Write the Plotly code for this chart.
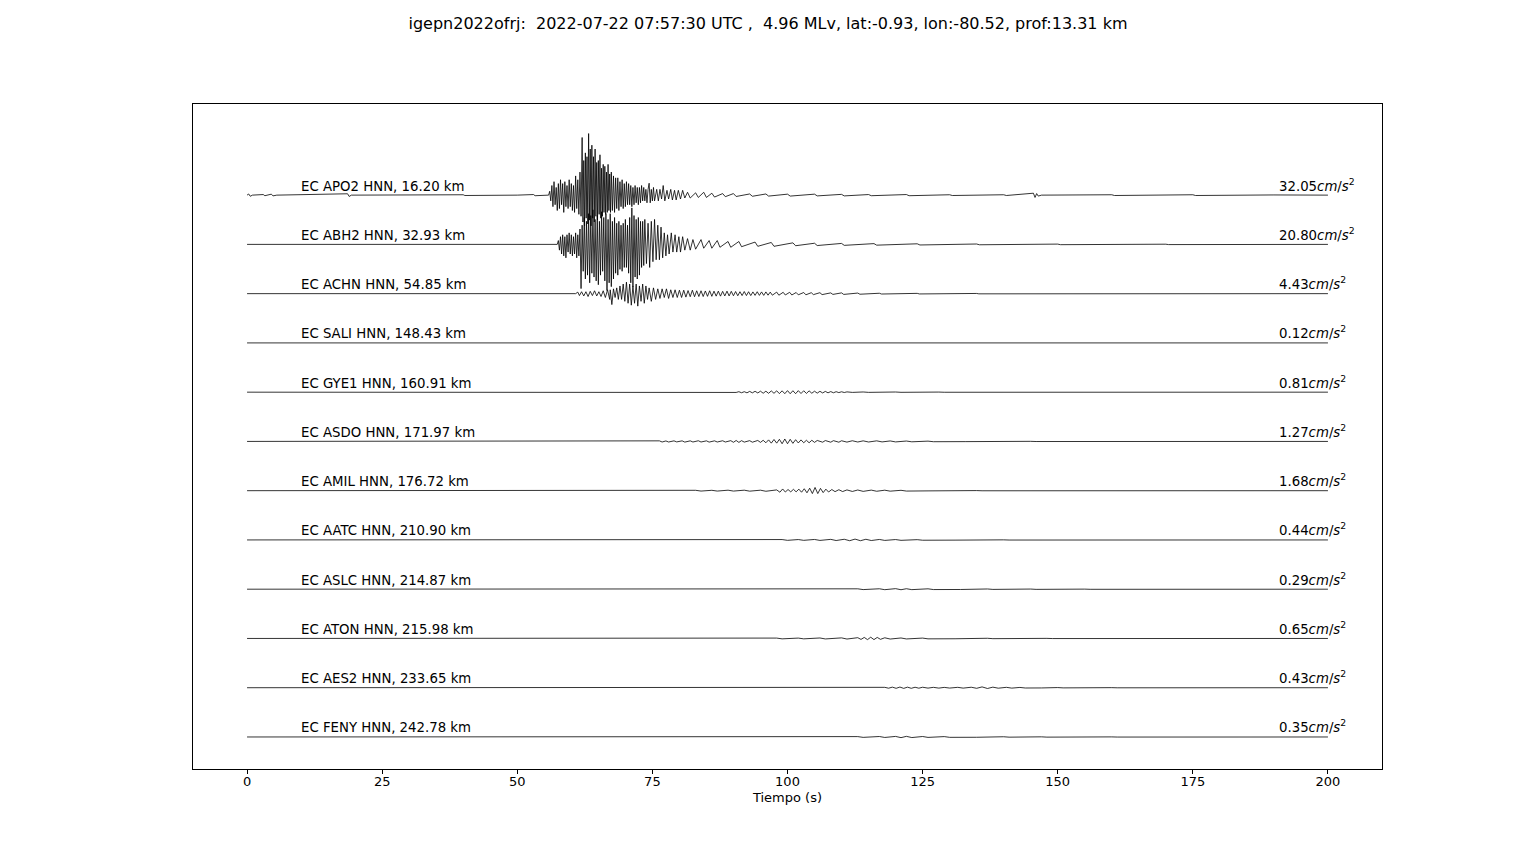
import plotly.graph_objects as go

# ---------------- data ----------------
TITLE = "igepn2022ofrj:  2022-07-22 07:57:30 UTC ,  4.96 MLv, lat:-0.93, lon:-80.52, prof:13.31 km"
NETWORK = "EC"
CHANNEL = "HNN"
STATIONS = ["APO2", "ABH2", "ACHN", "SALI", "GYE1", "ASDO", "AMIL", "AATC", "ASLC", "ATON", "AES2", "FENY"]
DIST_KM = [16.20, 32.93, 54.85, 148.43, 160.91, 171.97, 176.72, 210.90, 214.87, 215.98, 233.65, 242.78]
PGA = [32.05, 20.80, 4.43, 0.12, 0.81, 1.27, 1.68, 0.44, 0.29, 0.65, 0.43, 0.35]
X_TICKS = [0, 25, 50, 75, 100, 125, 150, 175, 200]

# waveform peaks: (time s, acceleration cm/s^2)
APO2 = [(0, 0), (0.3, 0.6), (0.6, -0.6), (1.0, 0), (3, 0.3), (3.3, -0.3), (4.5, 0.5), (4.8, -0.4), (5.5, 0),
        (18.6, 0.7), (18.9, -0.7), (19.3, 0), (40, 0.2), (40.3, -0.2), (50, 0), (53, 0.3), (53.3, -0.3), (55.8, 0),
        (56.0, 2), (56.2, -3), (56.4, 5), (56.6, -6), (56.8, 7), (57.0, -5), (57.2, 4), (57.4, -8), (57.6, 6),
        (57.8, -7), (58.0, 8), (58.2, -5), (58.4, 6), (58.6, -9), (58.8, 7), (59.0, -6), (59.2, 5), (59.4, -7),
        (59.6, 8), (59.8, -6), (60.0, 6), (60.2, -8), (60.4, 5), (60.6, -9), (60.8, 10), (61.0, -7), (61.2, 8),
        (61.4, -10), (61.6, 12), (61.8, -11), (62.0, 30), (62.15, -14), (62.3, 18), (62.45, -16), (62.6, 22),
        (62.75, -12), (62.9, 20), (63.05, -15), (63.2, 32.05), (63.35, -13), (63.5, 24), (63.65, -16),
        (63.8, 26), (63.95, -12), (64.1, 20), (64.25, -14), (64.4, 24), (64.55, -11), (64.7, 17), (64.85, -13),
        (65.0, 18), (65.15, -10), (65.3, 21), (65.45, -12), (65.6, 14), (65.75, -11), (65.9, 16), (66.05, -9),
        (66.2, 15), (66.35, -10), (66.5, 12), (66.65, -9), (66.8, 16), (66.95, -8), (67.1, 11), (67.25, -9),
        (67.4, 12), (67.6, -8), (67.8, 10), (68.0, -9), (68.2, 9), (68.4, -7), (68.6, 9), (68.8, -8), (69.0, 7),
        (69.2, -6), (69.4, 8), (69.6, -7), (69.8, 6), (70.0, -6), (70.2, 7), (70.4, -5), (70.6, 6), (70.8, -5),
        (71.0, 5), (71.2, -6), (71.4, 4), (71.6, -5), (71.8, 5), (72.0, -4), (72.2, 4), (72.4, -5), (72.6, 4),
        (72.8, -4), (73.0, 5), (73.2, -3), (73.4, 4), (73.6, -3), (73.8, 3), (74.0, -4), (74.2, 3), (74.4, 6.2),
        (74.6, -4), (74.8, 3), (75.0, -3), (75.2, 4), (75.4, -3), (75.8, 3), (76.1, -3), (76.4, 3), (76.7, -2),
        (77.0, 5), (77.3, -3), (77.7, 2.5), (78.0, -2), (78.4, 3), (78.7, -2.5), (79.1, 2.5), (79.4, -2.5),
        (79.8, 2.5), (80.2, -2), (80.6, 2.5), (81.0, -1.5), (81.5, 1.5), (82, -1.5), (83, 1.2), (83.5, -1.2),
        (84.5, 1.5), (85, -1.2), (86, 1), (86.5, -1), (88, 0.8), (88.5, -0.8), (90, 0.8), (90.5, -0.7),
        (93, 0.6), (93.5, -0.6), (96, 0.6), (96.5, -0.5), (100, 0.5), (100.5, -0.5), (105, 0.5), (105.5, -0.4),
        (110, 0.4), (110.5, -0.4), (115, 0.3), (115.5, -0.3), (122, 0.3), (122.5, -0.3), (130, 0.2),
        (130.5, -0.2), (140, 0.2), (140.5, -0.2), (145.5, 1.0), (145.8, -1.2), (146.1, 0.8), (146.4, -0.5),
        (147, 0), (160, 0.2), (160.5, -0.2), (175, 0.2), (175.5, -0.2), (190, 0.1), (200, 0)]

ABH2 = [(0, 0), (30, 0.1), (30.3, -0.1), (57.4, 0), (57.6, 2), (57.8, -3), (58.0, 4), (58.2, -5), (58.4, 5),
        (58.6, -6), (58.8, 4), (59.0, -7), (59.2, 5), (59.4, -4), (59.6, 6), (59.8, -5), (60.0, 5), (60.2, -6),
        (60.4, 4), (60.6, -5), (60.8, 6), (61.0, -7), (61.2, 5), (61.4, -6), (61.6, 8), (61.8, -23), (62.0, 10),
        (62.2, -14), (62.4, 14), (62.6, -18), (62.8, 12), (63.0, -16), (63.2, 16), (63.4, -20), (63.6, 15),
        (63.8, -15), (64.0, 18), (64.2, -17), (64.4, 13), (64.6, -19), (64.8, 15), (65.0, -21), (65.2, 12),
        (65.4, -16), (65.6, 17), (65.8, -14), (66.0, 14), (66.2, -19), (66.4, 16), (66.6, -24), (66.8, 13),
        (67.0, -20), (67.2, 16), (67.4, -22), (67.6, 12), (67.8, -18), (68.0, 14), (68.2, -15), (68.4, 11),
        (68.6, -16), (68.8, 12), (69.0, -13), (69.2, 10), (69.4, -14), (69.6, 11), (69.8, -12), (70.0, 13),
        (70.2, -12), (70.4, 10), (70.6, -15), (70.8, 14), (71.0, -20), (71.2, 19), (71.4, -22), (71.6, 15),
        (71.8, -17), (72.0, 13), (72.2, -18), (72.4, 14), (72.6, -16), (72.8, 12), (73.0, -12), (73.2, 12),
        (73.4, -11), (73.6, 13), (73.9, -10), (74.2, 11), (74.5, -12), (74.8, 12), (75.1, -9), (75.4, 13),
        (75.7, -8), (76.0, 10), (76.3, -8), (76.6, 9), (76.9, -7), (77.2, 6), (77.5, -6), (77.8, 5), (78.1, -5),
        (78.5, 6), (78.8, -4), (79.2, 5), (79.5, -4), (79.9, 4), (80.2, -4), (80.6, 4), (81.0, -3), (81.5, 3),
        (82, -3), (82.5, 2.5), (83, -2.5), (84, 2.5), (84.5, -2), (85.5, 2), (86, -2), (87, 2), (87.5, -1.5),
        (89, 1.5), (89.5, -1.5), (91, 1.5), (91.5, -1.2), (94, 1.2), (94.5, -1), (97, 1), (97.5, -1), (101, 0.8),
        (101.5, -0.7), (105, 0.6), (105.5, -0.6), (110, 0.5), (110.5, -0.5), (116, 0.4), (116.5, -0.4),
        (124, 0.3), (124.5, -0.3), (135, 0.2), (135.5, -0.2), (150, 0.15), (150.5, -0.15), (170, 0.1),
        (170.5, -0.1), (200, 0)]

ACHN = [(0, 0), (30, 0.1), (30.3, -0.1), (60.8, 0), (61.2, 0.8), (61.5, -1), (61.9, 1), (62.3, -1.2), (62.7, 1),
        (63.1, -1.5), (63.5, 1.2), (63.9, -1), (64.3, 1.5), (64.7, -1.2), (65.1, 1), (65.5, -1.5), (65.9, 1.5),
        (66.3, -2), (66.7, 2), (67.1, -3), (67.2, 2), (67.5, -5.7), (67.8, 2.5), (68.1, -2), (68.4, 3),
        (68.7, -3), (69.0, 4), (69.3, -3), (69.6, 5), (69.9, -4), (70.2, 6), (70.5, -5), (70.8, 5), (71.1, -6),
        (71.4, 4), (71.7, -5), (72.0, 5), (72.3, -6.5), (72.6, 4), (72.9, -4), (73.2, 5), (73.5, -5), (73.8, 4),
        (74.1, -3), (74.4, 3), (74.8, -4), (75.2, 3), (75.6, -3), (76.0, 2.5), (76.4, -2.5), (76.8, 2.5),
        (77.2, -2), (77.6, 2.5), (78.0, -2.5), (78.4, 2), (78.8, -2), (79.2, 2), (79.6, -2), (80.0, 1.8),
        (80.4, -2), (80.8, 1.8), (81.2, -1.8), (81.6, 1.6), (82.0, -1.6), (82.4, 1.8), (82.8, -1.6), (83.2, 1.5),
        (83.6, -1.5), (84.0, 1.5), (84.4, -1.5), (84.8, 1.4), (85.2, -1.4), (85.6, 1.5), (86.0, -1.4),
        (86.4, 1.3), (86.8, -1.3), (87.2, 1.3), (87.6, -1.3), (88.0, 1.2), (88.4, -1.2), (88.8, 1.3),
        (89.2, -1.2), (89.6, 1.2), (90.0, -1.1), (90.4, 1.1), (90.8, -1.1), (91.2, 1.0), (91.6, -1.0),
        (92.0, 1.1), (92.4, -1.0), (92.8, 1.0), (93.2, -1.0), (93.6, 0.9), (94.0, -0.9), (94.4, 1.0),
        (94.8, -0.9), (95.2, 0.9), (95.6, -0.9), (96.0, 0.9), (96.4, -0.8), (96.8, 0.8), (97.2, -0.8),
        (98, 0.8), (98.4, -0.8), (99.2, 0.7), (99.6, -0.7), (100.4, 0.7), (100.8, -0.7), (101.6, 0.6),
        (102, -0.6), (103, 0.6), (103.4, -0.6), (104.4, 0.5), (104.8, -0.5), (106, 0.5), (106.4, -0.5),
        (108, 0.4), (108.4, -0.4), (110, 0.4), (110.4, -0.4), (113, 0.3), (113.4, -0.3), (117, 0.2),
        (117.4, -0.2), (124, 0.15), (124.4, -0.15), (135, 0.1), (135.4, -0.1), (200, 0)]

SALI = [(0, 0), (60, 0.05), (60.3, -0.05), (75, 0.1), (75.3, -0.12), (100, 0.08), (100.3, -0.08), (130, 0.05),
        (130.3, -0.05), (200, 0)]

GYE1 = [(0, 0), (88.5, 0), (89, 0.1), (89.5, -0.15), (90, 0.2), (90.5, -0.15), (91, 0.25), (91.5, -0.3),
        (92, 0.25), (92.5, -0.35), (93, 0.4), (93.5, -0.35), (94, 0.45), (94.5, -0.4), (95, 0.5), (95.5, -0.55),
        (96, 0.5), (96.5, -0.6), (97, 0.65), (97.5, -0.6), (98, 0.7), (98.5, -0.75), (99, 0.7), (99.5, -0.78),
        (100, 0.8), (100.5, -0.81), (101, 0.75), (101.5, -0.8), (102, 0.78), (102.5, -0.7), (103, 0.72),
        (103.5, -0.65), (104, 0.68), (104.5, -0.55), (105, 0.5), (105.5, -0.5), (106, 0.45), (106.5, -0.4),
        (107, 0.4), (107.5, -0.35), (108, 0.3), (108.5, -0.32), (109, 0.25), (109.5, -0.22), (110, 0.2),
        (110.5, -0.18), (111, 0.15), (112, -0.12), (114, 0.1), (115, -0.1), (120, 0.08), (121, -0.08),
        (128, 0.05), (129, -0.05), (200, 0)]

ASDO = [(0, 0), (75.8, 0), (76.3, 0.3), (76.8, -0.3), (77.5, 0.25), (78, -0.3), (79, 0.3), (79.5, -0.25),
        (80.5, 0.3), (81, -0.35), (82, 0.3), (82.5, -0.3), (83.5, 0.35), (84, -0.3), (85, 0.3), (85.5, -0.35),
        (86.5, 0.3), (87, -0.3), (88, 0.35), (88.5, -0.3), (89.5, 0.4), (90, -0.45), (90.5, 0.5), (91, -0.5),
        (91.5, 0.4), (92, -0.35), (93, 0.4), (93.5, -0.4), (94.5, 0.5), (95, -0.5), (95.5, 0.6), (96, -0.7),
        (96.5, 0.8), (97, -0.9), (97.5, 1.0), (98, -0.9), (98.5, 1.1), (99, -1.2), (99.5, 1.27), (100, -1.2),
        (100.5, 1.1), (101, -1.0), (101.5, 0.9), (102, -0.8), (102.5, 0.8), (103, -0.7), (103.5, 0.6),
        (104, -0.7), (104.5, 0.6), (105, -0.5), (105.5, 0.5), (106.5, -0.4), (107, 0.45), (108, -0.4),
        (108.5, 0.4), (109.5, -0.4), (110, 0.35), (111, -0.35), (112, 0.35), (113, -0.3), (114, 0.3),
        (115, -0.3), (116.5, 0.3), (117.5, -0.25), (119, 0.25), (120, -0.25), (122, 0.2), (123, -0.2),
        (126, 0.15), (127, -0.15), (132, 0.1), (133, -0.1), (145, 0.05), (146, -0.05), (200, 0)]

AMIL = [(0, 0), (79.5, 0), (80, 0.15), (81, -0.15), (83, 0.2), (84, -0.2), (86, 0.2), (87, -0.2), (89, 0.25),
        (90, -0.2), (92, 0.25), (93, -0.25), (95, 0.25), (96, -0.3), (98, 0.4), (98.6, -0.8), (99.1, 0.9),
        (99.6, -0.7), (100.1, 0.6), (100.6, -0.6), (101.1, 0.7), (101.6, -0.6), (102.1, 0.8), (102.6, -0.8),
        (103.1, 1.0), (103.6, -1.1), (104.1, 1.3), (104.6, -1.5), (105.1, 1.68), (105.6, -1.5), (106.1, 1.2),
        (106.6, -1.0), (107.1, 0.8), (107.6, -0.7), (108.2, 0.6), (108.8, -0.5), (109.5, 0.5), (110.2, -0.45),
        (111, 0.4), (112, -0.4), (113, 0.35), (114, -0.35), (115.5, 0.3), (116.5, -0.3), (118, 0.25),
        (119, -0.25), (121, 0.2), (122, -0.2), (125, 0.1), (126, -0.1), (135, 0.05), (136, -0.05), (200, 0)]

AATC = [(0, 0), (84, 0), (85, 0.1), (86, -0.1), (88, 0.15), (89, -0.15), (91, 0.15), (92, -0.12), (95, 0.15),
        (96, -0.15), (99, 0.2), (100, -0.2), (102, 0.2), (103, -0.2), (105, 0.25), (106, -0.25), (108, 0.3),
        (109, -0.3), (110.5, 0.35), (111.5, -0.4), (112.5, 0.44), (113.5, -0.4), (114.5, 0.35), (115.5, -0.3),
        (117, 0.25), (118, -0.25), (120, 0.2), (121, -0.2), (124, 0.15), (125, -0.15), (130, 0.1), (131, -0.1),
        (140, 0.05), (141, -0.05), (200, 0)]

ASLC = [(0, 0), (82, 0), (84, 0.08), (85, -0.08), (90, 0.1), (91, -0.1), (96, 0.12), (97, -0.12), (102, 0.15),
        (103, -0.15), (108, 0.18), (109, -0.18), (113, 0.2), (114, -0.2), (117, 0.22), (118, -0.25), (120, 0.29),
        (121, -0.27), (122, 0.25), (123, -0.22), (126, 0.2), (127, -0.18), (131, 0.15), (132, -0.15),
        (137, 0.12), (138, -0.1), (145, 0.08), (146, -0.08), (155, 0.05), (156, -0.05), (200, 0)]

ATON = [(0, 0), (84, 0), (86, 0.1), (87, -0.1), (90, 0.15), (91, -0.12), (94, 0.15), (95, -0.15), (98, 0.2),
        (99, -0.2), (102, 0.2), (103, -0.2), (106, 0.25), (107, -0.25), (110, 0.3), (111, -0.3), (113, 0.4),
        (113.6, -0.5), (114.2, 0.55), (114.8, -0.6), (115.4, 0.65), (116, -0.6), (116.6, 0.55), (117.2, -0.45),
        (118, 0.35), (119, -0.3), (121, 0.25), (122, -0.25), (125, 0.2), (126, -0.2), (130, 0.15),
        (131, -0.15), (137, 0.1), (138, -0.1), (148, 0.05), (149, -0.05), (200, 0)]

AES2 = [(0, 0), (90, 0), (95, 0.05), (96, -0.05), (105, 0.06), (106, -0.06), (117, 0), (118, 0.2), (118.7, -0.25),
        (119.4, 0.3), (120.1, -0.3), (120.8, 0.35), (121.5, -0.35), (122.2, 0.3), (122.9, -0.3), (123.6, 0.25),
        (124.3, -0.25), (125, 0.25), (126, -0.2), (127, 0.2), (128, -0.2), (129, 0.18), (130, -0.18),
        (131.5, 0.2), (132.5, -0.2), (134, 0.25), (135, -0.3), (136, 0.43), (137, -0.4), (138, 0.3),
        (139, -0.25), (140.5, 0.2), (141.5, -0.2), (143, 0.15), (144, -0.15), (146, 0.12), (147, -0.12),
        (150, 0.08), (151, -0.08), (160, 0.04), (161, -0.04), (200, 0)]

FENY = [(0, 0), (90, 0), (92, 0.08), (93, -0.08), (97, 0.1), (98, -0.1), (103, 0.12), (104, -0.12), (108, 0.15),
        (109, -0.15), (113, 0.2), (114, -0.2), (117, 0.25), (118, -0.25), (120, 0.3), (121, -0.35), (122, 0.33),
        (123, -0.3), (125, 0.25), (126, -0.22), (129, 0.2), (130, -0.18), (134, 0.15), (135, -0.15), (140, 0.12),
        (141, -0.1), (147, 0.08), (148, -0.08), (160, 0.04), (161, -0.04), (200, 0)]

WAVES = [APO2, ABH2, ACHN, SALI, GYE1, ASDO, AMIL, AATC, ASLC, ATON, AES2, FENY]

# ---------------- styling ----------------
AMP_SCALE = 1.25 / 32.05        # trace units per cm/s^2 (common scale for all traces)
FONT = "DejaVu Sans"
LBL_DY = 0.185
RLBL_DY = 0.215
W, H = 1536, 864
SHIFT = 8                        # page body margin offset

fig = go.Figure()
for i, (sta, wave) in enumerate(zip(STATIONS, WAVES)):
    t = [p[0] for p in wave]
    y = [-i + p[1] * AMP_SCALE for p in wave]
    fig.add_trace(go.Scatter(x=t, y=y, mode="lines", line=dict(color="black", width=0.8),
                             showlegend=False, hoverinfo="skip"))
    fig.add_annotation(x=9.6, y=-i + LBL_DY, xref="x", yref="y", xanchor="left", yanchor="middle",
                       text=f"{NETWORK} {sta} {CHANNEL}, {DIST_KM[i]:.2f} km", showarrow=False,
                       font=dict(family=FONT, size=13.3, color="black"))
    fig.add_annotation(x=190.6, y=-i + RLBL_DY, xref="x", yref="y", xanchor="left", yanchor="middle",
                       text=f"{PGA[i]:.2f}<i>cm</i>/<i>s</i><sup>2</sup>", showarrow=False,
                       font=dict(family=FONT, size=13.3, color="black"))

fig.update_layout(
    width=W, height=H,
    margin=dict(l=193 - SHIFT, r=154 + SHIFT, t=104 - SHIFT, b=95 + SHIFT),
    paper_bgcolor="white", plot_bgcolor="white",
    title=dict(text=TITLE, x=(768 - SHIFT) / W, xanchor="center", y=1 - (23 - SHIFT) / H, yanchor="middle",
               font=dict(family=FONT, size=16, color="black")),
    font=dict(family=FONT, color="black"),
    xaxis=dict(range=[-10, 210], tickvals=X_TICKS, ticktext=[str(v) for v in X_TICKS],
               ticks="outside", ticklen=3.5, tickcolor="black", tickwidth=1, ticklabelstandoff=-3,
               showline=True, linecolor="black", linewidth=1, mirror=True,
               showgrid=False, zeroline=False, tickfont=dict(family=FONT, size=13),
               title=dict(text="Tiempo (s)", font=dict(family=FONT, size=13), standoff=4)),
    yaxis=dict(range=[-11.65, 1.85], showticklabels=False, ticks="",
               showline=True, linecolor="black", linewidth=1, mirror=True,
               showgrid=False, zeroline=False),
)

fig.write_html("out.html")
